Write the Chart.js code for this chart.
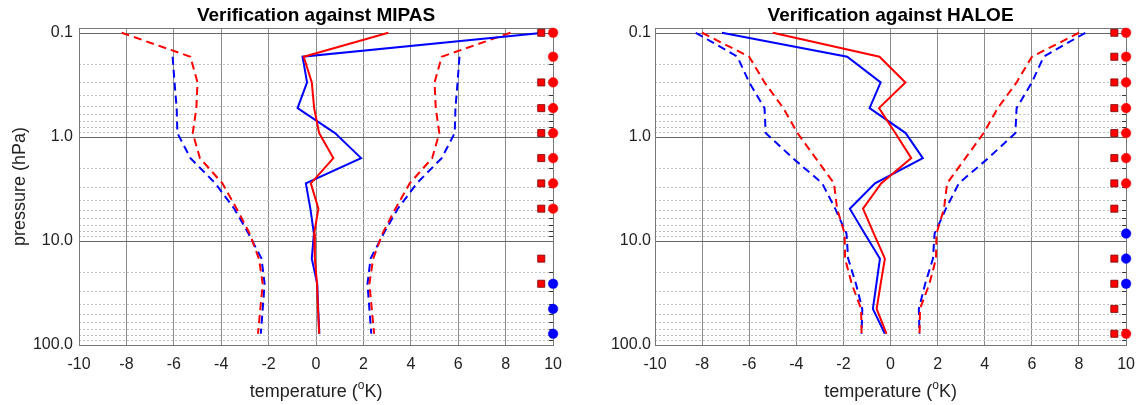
<!DOCTYPE html>
<html>
<head>
<meta charset="utf-8">
<script src="https://cdn.jsdelivr.net/npm/chart.js@4.4.0/dist/chart.umd.min.js"></script>
<style>
  body { margin: 0; background: #fff; }
  #wrap { position: relative; width: 1145px; height: 405px; }
  canvas { position: absolute; top: 0; }
</style>
</head>
<body>
<div id="wrap">
  <canvas id="mipasChart" width="572" height="405" style="left:0"></canvas>
  <canvas id="haloeChart" width="573" height="405" style="left:572px"></canvas>
</div>
<script>
// pressure levels (hPa) of the profiles
const pressure = [0.1, 0.17, 0.3, 0.53, 0.92, 1.6, 2.8, 4.9, 8.5, 14.8, 25.8, 45, 78];
const pressureTicks = [0.1, 1, 10, 100];
const pressureLabels = ['0.1', '1.0', '10.0', '100.0'];

// MIPAS: mean difference and std (dashed lines are +/- std)
const mipasRedMean = [3.05, -0.52, -0.18, -0.08, 0.13, 0.73, -0.22, 0.1, -0.08, -0.05, 0.04, 0.08, 0.13];
const mipasBlueMean = [9.6, -0.57, -0.38, -0.78, 0.8, 1.9, -0.43, -0.24, -0.09, -0.18, 0.05, 0.09, 0.14];
const mipasRedStd = [8.2, 5.3, 5.0, 5.05, 5.2, 4.9, 3.95, 3.35, 2.8, 2.41, 2.25, 2.35, 2.45];
const mipasBlueStd = [null, 6.05, 5.97, 5.88, 5.85, 5.3, 4.25, 3.45, 2.85, 2.3, 2.17, 2.25, 2.33];

// HALOE
const haloeRedMean = [-5.0, -0.47, 0.63, -0.49, 0.2, 0.88, -0.4, -1.17, -0.71, -0.24, -0.42, -0.59, -0.17];
const haloeBlueMean = [-7.16, -1.84, -0.42, -0.89, 0.64, 1.37, -0.66, -1.73, -1.1, -0.45, -0.6, -0.75, -0.24];
const haloeRedStd = [8.0, 6.0, 5.35, 4.55, 3.95, 3.18, 2.4, 2.27, 1.95, 1.93, 1.65, 1.25, 1.23];
const haloeBlueStd = [8.27, 6.5, 6.0, 5.35, 5.3, 4.15, 2.9, 2.35, 1.87, 1.8, 1.47, 1.2, 1.23];

// significance markers, as level indices
const mipasSquares = [0, 2, 3, 4, 5, 6, 7, 9, 10];
const mipasRedDots = [0, 1, 2, 3, 4, 5, 6, 7];
const mipasBlueDots = [10, 11, 12];
const haloeSquares = [0, 1, 2, 3, 4, 5, 6, 7, 9, 10, 11, 12];
const haloeRedDots = [0, 1, 2, 3, 4, 5, 6, 12];
const haloeBlueDots = [8, 9, 10];

const SQUARE_X = 9.5;
const DOT_X = 10;
const RED = '#ff0000';
const BLUE = '#0000ff';
const FONT = "'Liberation Sans', Arial, sans-serif";

Chart.defaults.font.family = FONT;

function profile(vals, sign) {
  return vals
    .map((v, i) => (v === null ? null : { x: sign * v, y: pressure[i] }))
    .filter(p => p);
}

function marks(levels, x) {
  return levels.map(k => ({ x: x, y: pressure[k] }));
}

function lineSet(data, color, dashed) {
  return {
    data: data,
    showLine: true,
    borderColor: color,
    borderWidth: 2,
    borderDash: dashed ? [8, 5] : [],
    pointRadius: 0,
    fill: false,
  };
}

function dotSet(data, color, style) {
  return {
    data: data,
    pointStyle: style,
    pointRadius: style === 'rect' ? 5 : 4.8,
    backgroundColor: color,
    borderColor: style === 'rect' ? '#700' : color,
    borderWidth: style === 'rect' ? 0.8 : 0.5,
    clip: 12,
  };
}

function hline(ctx, x1, x2, y) {
  ctx.beginPath();
  ctx.moveTo(x1, y);
  ctx.lineTo(x2, y);
  ctx.stroke();
}

const framePlugin = {
  id: 'frame',
  beforeDatasetsDraw(chart) {
    const ctx = chart.ctx;
    const a = chart.chartArea;
    const y = chart.scales.y;
    ctx.save();
    ctx.lineWidth = 1;
    for (let d = 0; d < pressureTicks.length - 1; d++) {
      for (let m = 2; m <= 9; m++) {
        const py = Math.round(y.getPixelForValue(pressureTicks[d] * m)) + 0.5;
        ctx.strokeStyle = '#c2c2c2';
        ctx.setLineDash([2, 2]);
        hline(ctx, a.left, a.right, py);
        ctx.setLineDash([]);
        ctx.strokeStyle = '#333';
        hline(ctx, a.right - 4, a.right, py);
      }
    }
    ctx.setLineDash([]);
    ctx.strokeStyle = '#666';
    pressureTicks.forEach(p => {
      const py = Math.round(y.getPixelForValue(p)) + 0.5;
      hline(ctx, a.left, a.right, py);
    });
    ctx.strokeStyle = '#777';
    ctx.strokeRect(Math.round(a.left) + 0.5, Math.round(a.top) + 0.5,
      Math.round(a.right - a.left), Math.round(a.bottom - a.top));
    ctx.restore();
  },
  afterDraw(chart, args, opts) {
    const ctx = chart.ctx;
    const a = chart.chartArea;
    const cx = (a.left + a.right) / 2;
    ctx.save();
    ctx.fillStyle = '#000';
    ctx.font = 'bold 19px ' + FONT;
    ctx.textAlign = 'center';
    ctx.textBaseline = 'middle';
    ctx.fillText(opts.title, cx, 16);

    // x axis title with superscript o
    ctx.fillStyle = '#222';
    ctx.textBaseline = 'alphabetic';
    ctx.textAlign = 'left';
    const big = '18px ' + FONT;
    const small = '12px ' + FONT;
    ctx.font = big;
    const w1 = ctx.measureText('temperature (').width;
    const w3 = ctx.measureText('K)').width;
    ctx.font = small;
    const w2 = ctx.measureText('o').width;
    let x = cx - (w1 + w2 + w3) / 2;
    ctx.font = big;
    ctx.fillText('temperature (', x, 397);
    ctx.font = small;
    ctx.fillText('o', x + w1, 389);
    ctx.font = big;
    ctx.fillText('K)', x + w1 + w2, 397);

    if (opts.yTitle) {
      ctx.translate(25, (a.top + a.bottom) / 2);
      ctx.rotate(-Math.PI / 2);
      ctx.textAlign = 'center';
      ctx.fillText(opts.yTitle, 0, 0);
    }
    ctx.restore();
  },
};

function buildPanel(id, title, yTitle, yWidth, padRight, tickPad,
                    redMean, blueMean, redStd, blueStd, squares, redDots, blueDots) {
  const ctx = document.getElementById(id).getContext('2d');
  return new Chart(ctx, {
    type: 'scatter',
    data: {
      datasets: [
        dotSet(marks(redDots, DOT_X), RED, 'circle'),
        dotSet(marks(blueDots, DOT_X), BLUE, 'circle'),
        dotSet(marks(squares, SQUARE_X), RED, 'rect'),
        lineSet(profile(redMean, 1), RED, false),
        lineSet(profile(blueMean, 1), BLUE, false),
        lineSet(profile(redStd, 1), RED, true),
        lineSet(profile(redStd, -1), RED, true),
        lineSet(profile(blueStd, 1), BLUE, true),
        lineSet(profile(blueStd, -1), BLUE, true),
      ],
    },
    options: {
      responsive: false,
      animation: false,
      devicePixelRatio: 1,
      events: [],
      layout: { padding: { top: 28, right: padRight, left: 0, bottom: 0 } },
      plugins: {
        legend: { display: false },
        tooltip: { enabled: false },
        frame: { title: title, yTitle: yTitle },
      },
      scales: {
        x: {
          type: 'linear',
          min: -10,
          max: 10,
          ticks: { stepSize: 2, padding: 10, color: '#222', font: { size: 16 } },
          grid: { color: '#8c8c8c', lineWidth: 1, drawTicks: false },
          border: { display: false },
          afterFit(scale) { scale.height = 60; },
        },
        y: {
          type: 'logarithmic',
          reverse: true,
          min: 0.09,
          max: 100,
          afterBuildTicks(scale) {
            scale.ticks = pressureTicks.map(v => ({ value: v }));
          },
          ticks: {
            autoSkip: false,
            padding: tickPad,
            color: '#222',
            font: { size: 16 },
            callback: (value, index) => pressureLabels[index],
          },
          grid: { display: false, drawTicks: false },
          border: { display: false },
          afterFit(scale) { scale.width = yWidth; },
        },
      },
    },
    plugins: [framePlugin],
  });
}

buildPanel('mipasChart', 'Verification against MIPAS', 'pressure (hPa)', 79, 16, 6,
  mipasRedMean, mipasBlueMean, mipasRedStd, mipasBlueStd, mipasSquares, mipasRedDots, mipasBlueDots);
buildPanel('haloeChart', 'Verification against HALOE', null, 83, 13, 4,
  haloeRedMean, haloeBlueMean, haloeRedStd, haloeBlueStd, haloeSquares, haloeRedDots, haloeBlueDots);
</script>
</body>
</html>
